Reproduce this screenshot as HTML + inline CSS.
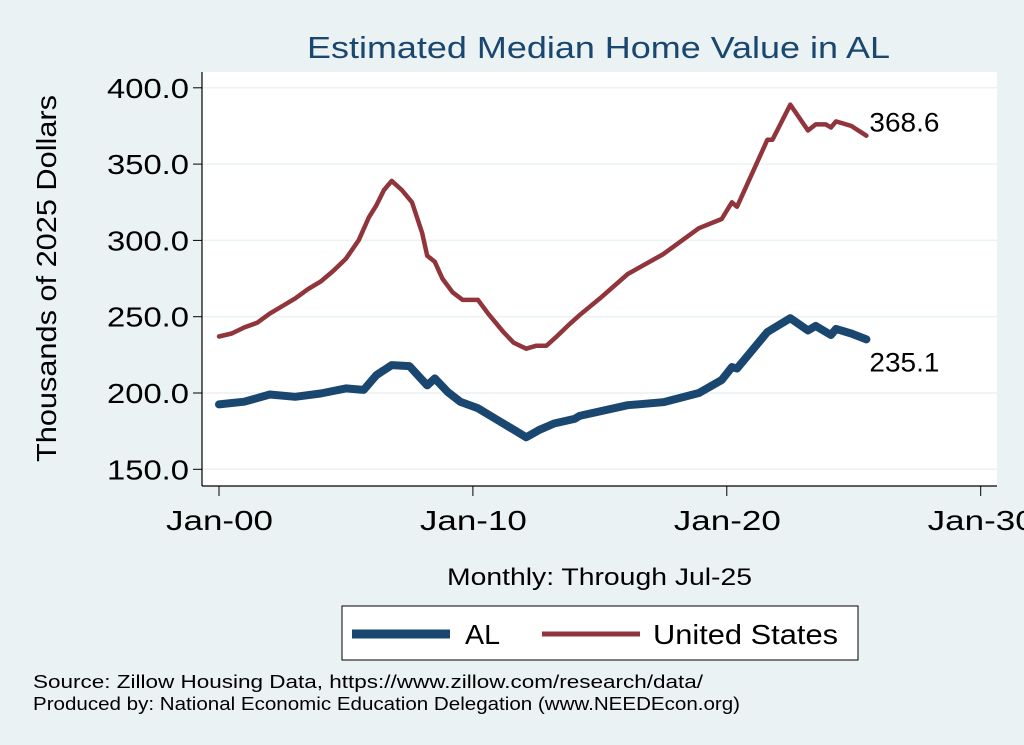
<!DOCTYPE html>
<html><head><meta charset="utf-8"><style>
body{margin:0;background:#eaf2f3;}
svg{display:block;font-family:"Liberation Sans",sans-serif;}
</style></head><body>
<svg id="chart" width="1024" height="745" viewBox="0 0 1024 745">
<rect x="0" y="0" width="1024" height="745" fill="#eaf2f3"/>
<rect x="202" y="72" width="795" height="414" fill="#fff"/>
<text x="307" y="58" font-size="31" fill="#1a476f" textLength="583" lengthAdjust="spacingAndGlyphs">Estimated Median Home Value in AL</text>
<g id="grid"></g><g id="axes"></g><g id="series"></g>
<text transform="translate(56,462) rotate(-90)" font-size="28" fill="#000" textLength="367" lengthAdjust="spacingAndGlyphs">Thousands of 2025 Dollars</text>
<text x="447" y="585" font-size="24" fill="#000" textLength="305" lengthAdjust="spacingAndGlyphs">Monthly: Through Jul-25</text>
<g>
<rect x="342" y="606" width="516" height="54" fill="#fff" stroke="#000" stroke-width="1"/>
<line x1="352" y1="634" x2="450" y2="634" stroke="#1a476f" stroke-width="9"/>
<text x="465" y="644" font-size="28" textLength="35" lengthAdjust="spacingAndGlyphs">AL</text>
<line x1="542" y1="634" x2="640" y2="634" stroke="#90353b" stroke-width="5"/>
<text x="653" y="644" font-size="28" textLength="185" lengthAdjust="spacingAndGlyphs">United States</text>
</g>
<text x="33" y="688" font-size="18" textLength="670" lengthAdjust="spacingAndGlyphs">Source: Zillow Housing Data, https://www.zillow.com/research/data/</text>
<text x="33" y="710" font-size="18" textLength="707" lengthAdjust="spacingAndGlyphs">Produced by: National Economic Education Delegation (www.NEEDEcon.org)</text>
</svg>
<script>
const yTicks=[150,200,250,300,350,400];
const yTickLabels=["150.0","200.0","250.0","300.0","350.0","400.0"];
const xTicks=[2000,2010,2020,2030];
const xTickLabels=["Jan-00","Jan-10","Jan-20","Jan-30"];
const usYears=[2000,2000.5,2001,2001.5,2002,2002.5,2003,2003.5,2004,2004.5,2005,2005.5,2005.9,2006.2,2006.5,2006.8,2007.2,2007.6,2008,2008.2,2008.5,2008.8,2009.2,2009.6,2010.2,2010.6,2011.2,2011.6,2012.1,2012.5,2012.9,2013.3,2013.8,2014.2,2015,2016.1,2017.5,2018.9,2019.8,2020.2,2020.4,2021.6,2021.8,2022.5,2023.2,2023.5,2023.9,2024.1,2024.3,2024.9,2025.5];
const usValues=[237,239,243,246,252,257,262,268,273,280,288,300,315,323,333,339,333,325,305,290,286,275,266,261,261,252,240,233,229,231,231,237,245,251,262,278,291,308,314,325,322,366,366,389,372,376,376,374,378,375,368.6];
const alYears=[2000,2001,2002,2003,2004,2005,2005.7,2006.2,2006.8,2007.5,2008.2,2008.5,2009,2009.5,2010.2,2011,2011.6,2012.1,2012.6,2013.2,2014,2014.2,2016.1,2017.5,2018.9,2019.8,2020.2,2020.4,2021.6,2022.5,2023.2,2023.5,2024.1,2024.3,2024.9,2025.5];
const alValues=[192.5,194.3,199,197.5,199.7,203,202,211.7,218.3,217.6,205,209.6,200.8,194.3,190,182,176,171,175.7,180,183,185,192,194,200,208.5,217,216,240,249,241,244,238,242,239,235.1];
const NS="http://www.w3.org/2000/svg";
const X=v=>219+(v-2000)*25.39;
const Y=v=>469.3-(v-150)*76.3/50;
function mk(tag,attrs,parent,text){const e=document.createElementNS(NS,tag);for(const k in attrs)e.setAttribute(k,attrs[k]);if(text!==undefined)e.textContent=text;parent.appendChild(e);return e;}
const grid=document.getElementById('grid'),axes=document.getElementById('axes'),series=document.getElementById('series');
yTicks.forEach((t,i)=>{
 const g=mk('line',{x1:202,x2:997,y1:Y(t),y2:Y(t),stroke:'#eaf2f3','stroke-width':1.5},grid);
 
 
 const tk=mk('line',{x1:193,x2:202,y1:Y(t),y2:Y(t),stroke:'#000','stroke-width':1},axes);
 
 
 const lb=mk('text',{x:107,y:Y(t)+10,'font-size':28,textLength:82,lengthAdjust:'spacingAndGlyphs'},axes,yTickLabels[i]);
 
 
});
xTicks.forEach((t,i)=>{
 const tk=mk('line',{x1:X(t),x2:X(t),y1:486,y2:496,stroke:'#000','stroke-width':1},axes);
 
 
 const lb=mk('text',{x:X(t)-53,y:530,'font-size':28,textLength:107,lengthAdjust:'spacingAndGlyphs'},axes,xTickLabels[i]);
 
 
});
const ya=mk('line',{x1:202,x2:202,y1:72,y2:486,stroke:'#000','stroke-width':1.2},axes);


const xa=mk('line',{x1:202,x2:997,y1:486,y2:486,stroke:'#000','stroke-width':1.2},axes);


function pts(xs,vs){return xs.map((x,i)=>X(x).toFixed(1)+','+Y(vs[i]).toFixed(1)).join(' ');}
const al=mk('polyline',{points:pts(alYears,alValues),fill:'none',stroke:'#1a476f','stroke-width':8,'stroke-linejoin':'round','stroke-linecap':'round'},series);


const us=mk('polyline',{points:pts(usYears,usValues),fill:'none',stroke:'#90353b','stroke-width':4.5,'stroke-linejoin':'round','stroke-linecap':'round'},series);


const ul=mk('text',{x:X(usYears[usYears.length-1])+3,y:Y(usValues[usValues.length-1])-4,'font-size':27,textLength:70,lengthAdjust:'spacingAndGlyphs'},series,usValues[usValues.length-1].toFixed(1));


const alab=mk('text',{x:X(alYears[alYears.length-1])+3,y:Y(alValues[alValues.length-1])+32,'font-size':27,textLength:70,lengthAdjust:'spacingAndGlyphs'},series,alValues[alValues.length-1].toFixed(1));


</script>
</body></html>
